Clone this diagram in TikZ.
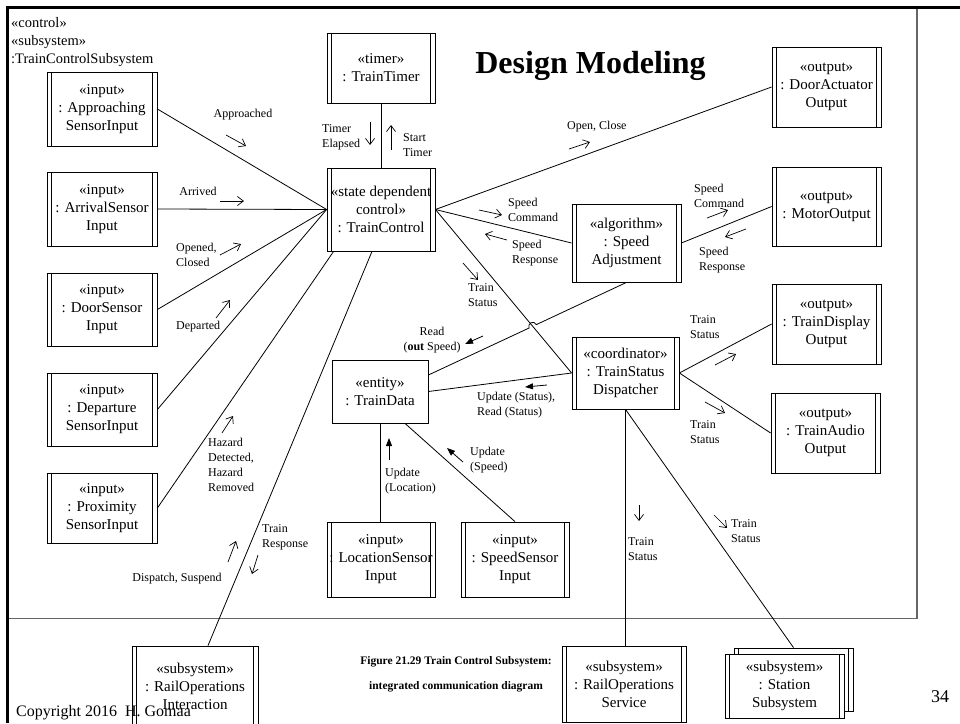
\documentclass[tikz,border=0pt]{standalone}
\usepackage{fontspec}
\setmainfont{Liberation Serif}
\usetikzlibrary{arrows.meta,calc}
\newcommand\boxfnt{\fontsize{15}{18}\selectfont}
\newcommand\msgfnt{\fontsize{12}{15}\selectfont}
\begin{document}
\begin{tikzpicture}[x=1pt,y=-1pt,
  obj/.style={draw, line width=0.8pt, align=center, inner sep=0pt, font=\boxfnt,
              minimum width=108pt, minimum height=74pt},
  active/.style={obj, path picture={
      \draw[line width=0.8pt] ([xshift=4.5pt]path picture bounding box.north west) -- ([xshift=4.5pt]path picture bounding box.south west);
      \draw[line width=0.8pt] ([xshift=-4.5pt]path picture bounding box.north east) -- ([xshift=-4.5pt]path picture bounding box.south east);}},
  link/.style={line width=0.8pt},
  msg/.style={font=\msgfnt, align=left, inner sep=0pt},
  async/.style={line width=0.7pt, -{Straight Barb[length=6pt,width=9pt]}},
  sync/.style={line width=0.8pt, -{Triangle[length=8pt,width=6pt]}},
]
\useasboundingbox (0,0) rectangle (960,723);

% subsystem frame and slide frame
\draw[line width=1.5pt, black!60] (8,8) rectangle (917,618.5);
\draw[line width=3pt] (7.7,723) -- (7.7,7.7) -- (960,7.7);

\node[anchor=west, align=left, inner sep=0pt, font=\fontsize{14.5}{18}\selectfont] (sub) at (11,42)
  {«control»\\«subsystem»\\:TrainControlSubsystem};

\node[font=\fontsize{32}{36}\selectfont\bfseries, inner sep=0pt] (title) at (590.5,66) {Design Modeling};

% input objects
\node[active, minimum width=110pt, minimum height=74pt] (ap) at (102,109) {«input»\\: Approaching\\SensorInput};
\node[active, minimum width=110pt, minimum height=74pt] (ar) at (102,209) {«input»\\: ArrivalSensor\\Input};
\node[active, minimum width=110pt, minimum height=73pt] (ds) at (102,309.5) {«input»\\: DoorSensor\\Input};
\node[active, minimum width=110pt, minimum height=73pt] (dp) at (102,409.5) {«input»\\: Departure\\SensorInput};
\node[active, minimum width=110pt, minimum height=70pt] (px) at (102,508) {«input»\\: Proximity\\SensorInput};

% control, timer, algorithm, coordinator
\node[active, minimum width=108pt, minimum height=70pt] (tt) at (381,68) {«timer»\\: TrainTimer};
\node[active, minimum width=108pt, minimum height=83pt] (tc) at (381,209.5) {«state dependent\\control»\\: TrainControl};
\node[active, minimum width=109pt, minimum height=78pt] (sa) at (626.5,243) {«algorithm»\\: Speed\\Adjustment};
\node[active, minimum width=107pt, minimum height=72pt] (tsd) at (625.5,373) {«coordinator»\\: TrainStatus\\Dispatcher};

% output objects
\node[active, minimum width=109pt, minimum height=80pt] (da) at (826.5,87) {«output»\\: DoorActuator\\Output};
\node[active, minimum width=109pt, minimum height=79pt] (mo) at (826.5,206.5) {«output»\\: MotorOutput};
\node[active, minimum width=109pt, minimum height=80pt] (tdo) at (826.5,324) {«output»\\: TrainDisplay\\Output};
\node[active, minimum width=109pt, minimum height=80pt] (tao) at (825.5,433) {«output»\\: TrainAudio\\Output};

% entity and sensors below it
\node[obj, minimum width=96pt, minimum height=63pt] (td) at (380,391.5) {«entity»\\: TrainData};
\node[active, minimum width=108pt, minimum height=75pt] (ls) at (381,559.5) {«input»\\: LocationSensor\\Input};
\node[active, minimum width=108pt, minimum height=75pt] (ss) at (515,559.5) {«input»\\: SpeedSensor\\Input};

% external subsystems
\node[active, minimum width=126pt, minimum height=80pt] (roi) at (195,686) {«subsystem»\\: RailOperations\\Interaction};
\node[active, minimum width=124pt, minimum height=76pt] (ros) at (624,684) {«subsystem»\\: RailOperations\\Service};
\node[active, minimum width=119pt, minimum height=63pt] (stb) at (793.5,679.5) {};
\node[active, fill=white, minimum width=119pt, minimum height=64pt] (st) at (784.5,686) {«subsystem»\\: Station\\Subsystem};

% links
\draw[link] (ap.east) -- (tc.west);
\draw[link] (ar.east) -- (tc.west);
\draw[link] (ds.east) -- (tc.west);
\draw[link] (dp.east) -- (tc.west);
\draw[link] (px.east) -- ([xshift=7pt]tc.south west);
\draw[link] ([xshift=13pt]roi.north) -- ([xshift=-9pt]tc.south);
\draw[link] (tt.south) -- (tc.north);
\draw[link] (tc.east) -- (da.west);
\draw[link] (tc.east) -- (sa.west);
\draw[link] (tc.east) -- (tsd.west);
\draw[link] (sa.east) -- (mo.west);
\coordinate (tdB) at ([yshift=16.5pt]td.east);
\coordinate (hx) at (intersection of tc.east--tsd.west and sa.south--tdB);
\coordinate (h1) at ($(hx)!4pt!(sa.south)$);
\draw[link] let \p1=($(sa.south)-(hx)$), \n1={atan2(\y1,\x1)} in
  (sa.south) -- (h1) arc[start angle=\n1, end angle=\n1+180, radius=4pt] -- (tdB);
\draw[link] (td.east) -- (tsd.west);
\draw[link] (tsd.east) -- (tdo.west);
\draw[link] (tsd.east) -- (tao.west);
\draw[link] (tsd.south) -- (tsd.south |- ros.north);
\draw[link] (tsd.south) -- (stb.north);
\draw[link] (td.south) -- (td.south |- ls.north);
\draw[link] ([xshift=25pt]td.south) -- (ss.north);

% message labels
\node[msg, anchor=center] (m1) at (243,115) {Approached};
\node[msg, anchor=center] (m2) at (198,191) {Arrived};
\node[msg, anchor=west] (m3) at (176,255) {Opened,\\Closed};
\node[msg, anchor=west] (m4) at (176,327) {Departed};
\node[msg, anchor=west] (m5) at (208,465) {Hazard\\Detected,\\Hazard\\Removed};
\node[msg, anchor=west] (m6) at (262,537) {Train\\Response};
\node[msg, anchor=center] (m7) at (177,579) {Dispatch, Suspend};
\node[msg, anchor=west] (m8) at (322,137.5) {Timer\\Elapsed};
\node[msg, anchor=west] (m9) at (403,145) {Start\\Timer};
\node[msg, anchor=west] (m10) at (567,127) {Open, Close};
\node[msg, anchor=west] (m11) at (508,209.5) {Speed\\Command};
\node[msg, anchor=west] (m12) at (512,253.5) {Speed\\Response};
\node[msg, anchor=west] (m13) at (468,295.5) {Train\\Status};
\node[msg, anchor=west] (m14) at (694,195.5) {Speed\\Command};
\node[msg, anchor=west] (m15) at (699,260.5) {Speed\\Response};
\node[msg, align=center, anchor=center] (m16) at (432,340) {Read\\(\textbf{out} Speed)};
\node[msg, anchor=west] (m17) at (477,405) {Update (Status),\\Read (Status)};
\node[msg, anchor=west] (m18) at (470,460.5) {Update\\(Speed)};
\node[msg, anchor=west] (m19) at (385,481) {Update\\(Location)};
\node[msg, anchor=west] (m20) at (690,327.5) {Train\\Status};
\node[msg, anchor=west] (m21) at (690,432) {Train\\Status};
\node[msg, anchor=west] (m22) at (628,549.5) {Train\\Status};
\node[msg, anchor=west] (m23) at (731,531.5) {Train\\Status};

% message arrows
\draw[async] (226,135) -- (246,146);
\draw[async] (220,201) -- (244,201);
\draw[async] (220,255) -- (241,244);
\draw[async] (216,318) -- (230,300);
\draw[async] (222,433) -- (233,416);
\draw[async] (258,555) -- (252,574);
\draw[async] (228,562) -- (236,541);
\draw[async] (370,122) -- (370,145);
\draw[async] (391,150) -- (391,125);
\draw[async] (569,149) -- (590,142);
\draw[async] (479,210) -- (502,215);
\draw[async] (507,240) -- (485,234);
\draw[async] (463,263) -- (478,280);
\draw[async] (707,218) -- (728,210);
\draw[async] (746,229) -- (725,237);
\draw[sync] (483,336) -- (465,344);
\draw[sync] (547,385) -- (525,387);
\draw[sync] (463,462) -- (447,448);
\draw[sync] (389,460) -- (389,438);
\draw[async] (715,365) -- (736,354);
\draw[async] (705,402) -- (725,413);
\draw[async] (639,505) -- (639,521);
\draw[async] (714,515) -- (727,528);

% caption, copyright, page number
\node[font=\fontsize{11.5}{25}\selectfont\bfseries, align=center, inner sep=0pt] (cap) at (456,674.5)
  {Figure 21.29 Train Control Subsystem:\\integrated communication diagram};
\node[anchor=west, inner sep=0pt, font=\fontsize{16}{18}\selectfont] (copy) at (16,713) {Copyright 2016\ \ H. Gomaa};
\node[inner sep=0pt, font=\fontsize{18}{20}\selectfont] (pg) at (940,697) {34};
\end{tikzpicture}
\end{document}
